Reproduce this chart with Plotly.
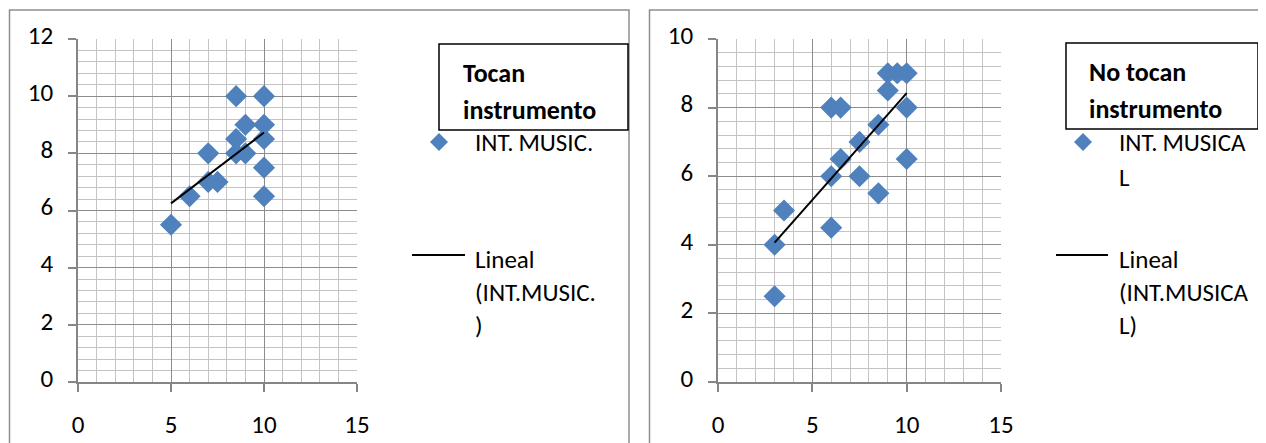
import numpy as np
import plotly.graph_objects as go

# ---- data ----
toc_x = [5, 6, 7, 7, 7.5, 8.5, 8.5, 8.5, 9, 9, 10, 10, 10, 10, 10]
toc_y = [5.5, 6.5, 8, 7, 7, 10, 8.5, 8, 9, 8, 10, 9, 8.5, 7.5, 6.5]

no_x = [3, 3, 3.5, 6, 6, 6, 6.5, 6.5, 7.5, 7.5, 8.5, 8.5, 9, 9, 9.5, 10, 10, 10]
no_y = [4, 2.5, 5, 4.5, 6, 8, 8, 6.5, 6, 7, 7.5, 5.5, 8.5, 9, 9, 9, 8, 6.5]

left_title = ["Tocan", "instrumento"]
right_title = ["No tocan", "instrumento"]
left_marker_label = ["INT.\u2009MUSIC."]
left_line_label = ["Lineal", "(INT.MUSIC.", ")"]
right_marker_label = ["INT.\u2009MUSICA", "L"]
right_line_label = ["Lineal", "(INT.MUSICA", "L)"]

# page body has an 8px default margin: size the figure so it fits the window
OFF = 8
W, H = 1266 - OFF, 443 - OFF
BLUE = "#4f81bd"
FONT = "Carlito, Lato, sans-serif"


def px(x):
    return (x - OFF) / W


def py(y):
    return 1 - (y - OFF) / H


fig = go.Figure()


def trend(xs, ys):
    m, b = np.polyfit(xs, ys, 1)
    x0, x1 = min(xs), max(xs)
    return [x0, x1], [m * x0 + b, m * x1 + b]


for xs, ys, xa, ya in [(toc_x, toc_y, "x", "y"), (no_x, no_y, "x2", "y2")]:
    fig.add_trace(go.Scatter(x=xs, y=ys, mode="markers", xaxis=xa, yaxis=ya,
                             marker=dict(symbol="diamond", size=17, color=BLUE,
                                         line=dict(width=0)),
                             showlegend=False, hoverinfo="x+y"))
    tx, ty = trend(xs, ys)
    fig.add_trace(go.Scatter(x=tx, y=ty, mode="lines", xaxis=xa, yaxis=ya,
                             line=dict(color="black", width=2),
                             showlegend=False))

AXC = "#868686"
TICKFONT = dict(family=FONT, size=25, color="black")
common_x = dict(range=[0, 15], dtick=5, tick0=0, showgrid=True, gridcolor="#8c8c8c",
                gridwidth=1.3, zeroline=False, showline=True, linecolor=AXC, linewidth=1.6,
                ticks="outside", ticklen=8, tickcolor=AXC, tickwidth=1.6,
                tickfont=TICKFONT, ticklabelstandoff=11, automargin=False,
                minor=dict(dtick=1, showgrid=True, gridcolor="#c4c4c4", gridwidth=1.3, ticks=""),
                fixedrange=True)
common_y = dict(dtick=2, tick0=0, showgrid=True, gridcolor="#8c8c8c",
                gridwidth=1.3, zeroline=False, showline=True, linecolor=AXC, linewidth=1.6,
                ticks="outside", ticklen=8, tickcolor=AXC, tickwidth=1.6,
                tickfont=TICKFONT, ticklabelstandoff=10, automargin=False, ticklabelshift=-4,
                minor=dict(dtick=0.4, tick0=0, showgrid=True, gridcolor="#c4c4c4", gridwidth=1.3, ticks=""),
                fixedrange=True)

yd = [py(382), py(39)]
fig.update_layout(
    width=W, height=H,
    margin=dict(l=0, r=0, t=0, b=0, pad=0),
    paper_bgcolor="white", plot_bgcolor="white",
    showlegend=False,
    xaxis=dict(domain=[px(78), px(357)], anchor="y", **common_x),
    yaxis=dict(domain=yd, anchor="x", range=[0, 12], **common_y),
    xaxis2=dict(domain=[px(718), px(1001)], anchor="y2", **common_x),
    yaxis2=dict(domain=yd, anchor="x2", range=[0, 10], **common_y),
)

shapes = []
# chart outer borders
BORD = "#8e8e8e"
shapes.append(dict(type="rect", xref="paper", yref="paper",
                   x0=px(9.5), x1=px(629), y0=py(470), y1=py(10),
                   line=dict(color=BORD, width=1.5), layer="below"))
shapes.append(dict(type="rect", xref="paper", yref="paper",
                   x0=px(649.5), x1=px(1300), y0=py(470), y1=py(10),
                   line=dict(color=BORD, width=1.5), layer="below"))

annotations = []


def text(x, y, s, bold=False, size=22):
    annotations.append(dict(xref="paper", yref="paper", x=px(x), y=py(y),
                            xanchor="left", yanchor="middle", showarrow=False,
                            text=f"<b>{s}</b>" if bold else s,
                            font=dict(family=FONT, size=size, color="black")))


def diamond(cx, cy, r):
    return dict(type="path", xref="paper", yref="paper",
                path=(f"M {px(cx - r)},{py(cy)} L {px(cx)},{py(cy - r)} "
                      f"L {px(cx + r)},{py(cy)} L {px(cx)},{py(cy + r)} Z"),
                fillcolor=BLUE, line=dict(width=0))


legend_specs = [
    # box x0,x1,y0,y1, title x, marker cx, text x, line x0,x1, titles, labels
    (439, 628, 44, 130, 461, 439, 473, 412, 465, left_title, left_marker_label, left_line_label),
    (1066, 1258, 43, 129, 1087, 1083, 1117, 1056, 1108, right_title, right_marker_label, right_line_label),
]
for (bx0, bx1, by0, by1, tx, mcx, lx, l0, l1, title, mlab, llab) in legend_specs:
    shapes.append(dict(type="rect", xref="paper", yref="paper",
                       x0=px(bx0), x1=px(bx1), y0=py(by1), y1=py(by0),
                       line=dict(color="black", width=1.5), fillcolor="white"))
    text(tx, by0 + 29, title[0], bold=True, size=26)
    text(tx, by0 + 66, title[1], bold=True, size=26)
    shapes.append(diamond(mcx, 142, 9))
    for i, s in enumerate(mlab):
        text(lx, 143 + 35 * i, s, size=25)
    shapes.append(dict(type="line", xref="paper", yref="paper",
                       x0=px(l0), x1=px(l1), y0=py(255), y1=py(255),
                       line=dict(color="black", width=2)))
    for i, s in enumerate(llab):
        text(lx, 259 + 33 * i, s, size=25)

fig.update_layout(shapes=shapes, annotations=annotations)
fig.write_html("out.html")
